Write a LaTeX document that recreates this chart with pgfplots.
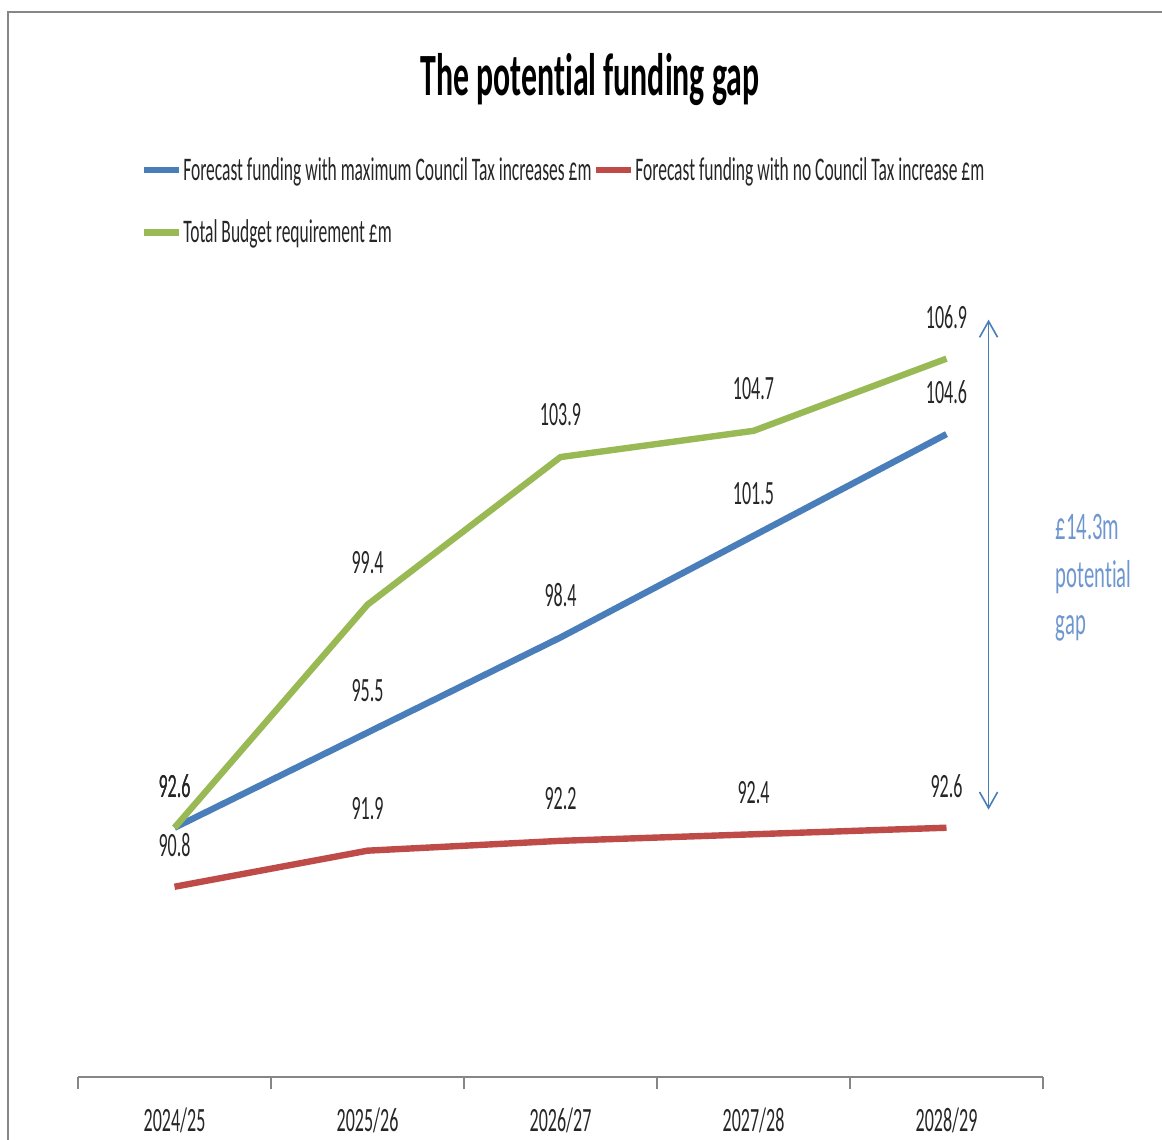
\documentclass[border=0pt]{standalone}
\usepackage{pgfplots}
\usepackage{pgfplotstable}
\pgfplotsset{compat=1.18}
\usepackage{fontspec}
\setmainfont{Carlito}[FakeStretch=0.53, Ligatures={NoCommon}]
\usetikzlibrary{arrows.meta}

\definecolor{cblue}{RGB}{74,126,187}
\definecolor{cred}{RGB}{190,75,72}
\definecolor{cgreen}{RGB}{152,185,84}
\definecolor{gaptext}{RGB}{111,151,207}
\definecolor{axisgray}{RGB}{134,134,134}

% funding forecasts, £m
\pgfplotstableread{
x   maxct  noct  budget
0   92.6   90.8  92.6
1   95.5   91.9  99.4
2   98.4   92.2  103.9
3   101.5  92.4  104.7
4   104.6  92.6  106.9
}\gaptable

\begin{document}
\begin{tikzpicture}
\path[use as bounding box] (0,0) rectangle (581pt,570pt);
% chart frame
\draw[axisgray, line width=1.3pt] (4pt,0) -- (4pt,564pt) -- (581pt,564pt);
% title
\node[font=\fontsize{30pt}{36pt}\selectfont\bfseries] at (295pt,530pt) {The potential funding gap};

\begin{axis}[
    at={(39pt,31.5pt)}, anchor=south west,
    scale only axis,
    width=482.5pt, height=410pt,
    xmin=-0.5, xmax=4.5,
    ymin=85, ymax=110,
    hide y axis,
    axis x line*=bottom,
    x axis line style={axisgray, line width=1.2pt},
    xtick={0,1,2,3,4},
    xticklabels={2024/25,2025/26,2026/27,2027/28,2028/29},
    major tick length=0pt,
    minor xtick={-0.5,0.5,1.5,2.5,3.5,4.5},
    minor tick length=6pt,
    tick align=outside,
    minor tick style={axisgray, line width=0.6pt},
    xticklabel style={anchor=center, yshift=-21.5pt,
        font=\fontsize{17pt}{20pt}\selectfont, text=black!85},
    clip=false,
    /pgf/number format/assume math mode=true,
    nodes near coords={\pgfmathprintnumber[fixed,fixed zerofill,precision=1]{\pgfplotspointmeta}},
    every node near coord/.append style={anchor=center, yshift=21pt,
        font=\fontsize{17pt}{20pt}\selectfont, text=black!85},
    legend columns=2,
    legend cell align=left,
    legend style={at={(axis description cs:0.065,1.123)}, anchor=north west,
        draw=none, fill=none, inner sep=0pt, outer sep=0pt,
        font=\fontsize{16.5pt}{19pt}\selectfont, text=black!85,
        nodes={inner sep=0.6pt}, column sep=0pt, row sep=17pt},
    legend image code/.code={\draw[#1, line width=3.2pt] (0pt,0pt) -- (17.5pt,0pt);},
    every axis plot/.append style={line width=3.2pt, line join=round, mark=none},
]
\addplot[cblue] table[x=x, y=maxct] {\gaptable};
\addplot[cred] table[x=x, y=noct] {\gaptable};
\addplot[cgreen] table[x=x, y=budget] {\gaptable};
\legend{Forecast funding with maximum Council Tax increases £m,
        Forecast funding with no Council Tax increase £m,
        Total Budget requirement £m}

% the gap between 2028/29 funding and budget
\draw[cblue, line width=0.8pt, {Straight Barb[length=8pt,width=9pt]}-{Straight Barb[length=8pt,width=9pt]}]
    (axis cs:4.218,108.09) -- (axis cs:4.218,93.15);
\node[anchor=west, align=left, text=gaptext,
      font=\fontsize{19.5pt}{23.75pt}\selectfont] at (axis cs:4.53,100.21)
    {£14.3m\\potential\\gap};
\end{axis}
\end{tikzpicture}
\end{document}
